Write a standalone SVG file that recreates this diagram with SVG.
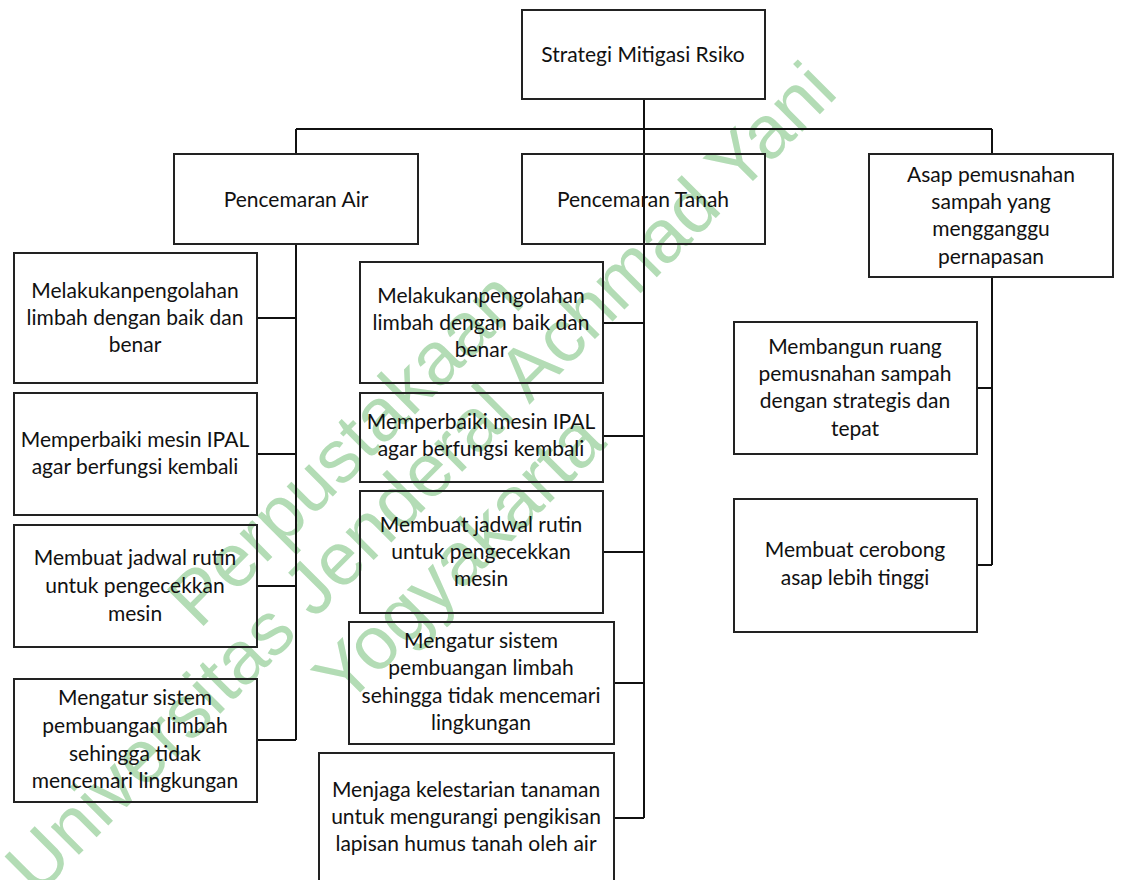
<svg xmlns="http://www.w3.org/2000/svg" width="1121" height="880" viewBox="0 0 1121 880">
<style>
.wm{font-family:"Liberation Sans",Arial,sans-serif;font-size:75px;fill:#b3dcb5;text-anchor:middle}
.box{fill:none;stroke:#222;stroke-width:2}
.lbl{font-family:Lato,"Liberation Sans",sans-serif;font-size:21px;fill:#111;text-anchor:middle}
.con{fill:none;stroke:#111;stroke-width:2}
</style>
<rect width="1121" height="880" fill="#fff"/>
<g id="watermark" transform="translate(425,475) rotate(-45)">
<text class="wm" x="-38" y="-50">Perpustakaan</text>
<text class="wm" x="-5" y="24">Universitas Jenderal Achmad Yani</text>
<text class="wm" x="-35" y="108">Yogyakarta</text>
</g>
<g id="connectors">
<path class="con" d="M644 99V244M296 129H992M296 129V154M992 129V154"/>
<path class="con" d="M296 244V740M257 318H296M257 454H296M257 586H296M257 740H296"/>
<path class="con" d="M644 244V818M603 323H644M603 436H644M603 552H644M614 683H644M614 818H644"/>
<path class="con" d="M992 277V565M977 388H992M977 565H992"/>
</g>
<g id="root"><rect class="box" x="522" y="10" width="243" height="89"/><text class="lbl" x="643" y="62">Strategi Mitigasi Rsiko</text></g>
<g id="air"><rect class="box" x="174" y="154" width="244" height="90"/><text class="lbl" x="296" y="207">Pencemaran Air</text></g>
<g id="tanah"><rect class="box" x="522" y="154" width="243" height="90"/><text class="lbl" x="643" y="207">Pencemaran Tanah</text></g>
<g id="asap"><rect class="box" x="869" y="154" width="244" height="123"/><text class="lbl" x="991"><tspan x="991" y="182">Asap pemusnahan</tspan><tspan x="991" y="209">sampah yang</tspan><tspan x="991" y="236">mengganggu</tspan><tspan x="991" y="264">pernapasan</tspan></text></g>
<g id="air1"><rect class="box" x="14" y="253" width="243" height="130"/><text class="lbl"><tspan x="135" y="298">Melakukanpengolahan</tspan><tspan x="135" y="325">limbah dengan baik dan</tspan><tspan x="135" y="352">benar</tspan></text></g>
<g id="air2"><rect class="box" x="14" y="393" width="243" height="122"/><text class="lbl"><tspan x="135" y="447">Memperbaiki mesin IPAL</tspan><tspan x="135" y="474">agar berfungsi kembali</tspan></text></g>
<g id="air3"><rect class="box" x="14" y="525" width="243" height="122"/><text class="lbl"><tspan x="135" y="565">Membuat jadwal rutin</tspan><tspan x="135" y="593">untuk pengecekkan</tspan><tspan x="135" y="621">mesin</tspan></text></g>
<g id="air4"><rect class="box" x="14" y="679" width="243" height="123"/><text class="lbl"><tspan x="135" y="705">Mengatur sistem</tspan><tspan x="135" y="733">pembuangan limbah</tspan><tspan x="135" y="761">sehingga tidak</tspan><tspan x="135" y="788">mencemari lingkungan</tspan></text></g>
<g id="tanah1"><rect class="box" x="360" y="262" width="243" height="121"/><text class="lbl"><tspan x="481" y="303">Melakukanpengolahan</tspan><tspan x="481" y="330">limbah dengan baik dan</tspan><tspan x="481" y="357">benar</tspan></text></g>
<g id="tanah2"><rect class="box" x="360" y="393" width="243" height="89"/><text class="lbl"><tspan x="481" y="429">Memperbaiki mesin IPAL</tspan><tspan x="481" y="456">agar berfungsi kembali</tspan></text></g>
<g id="tanah3"><rect class="box" x="360" y="491" width="243" height="122"/><text class="lbl"><tspan x="481" y="532">Membuat jadwal rutin</tspan><tspan x="481" y="559">untuk pengecekkan</tspan><tspan x="481" y="586">mesin</tspan></text></g>
<g id="tanah4"><rect class="box" x="349" y="622" width="265" height="122"/><text class="lbl"><tspan x="481" y="648">Mengatur sistem</tspan><tspan x="481" y="675">pembuangan limbah</tspan><tspan x="481" y="703">sehingga tidak mencemari</tspan><tspan x="481" y="730">lingkungan</tspan></text></g>
<g id="tanah5"><rect class="box" x="319" y="753" width="295" height="135"/><text class="lbl"><tspan x="466" y="797">Menjaga kelestarian tanaman</tspan><tspan x="466" y="824">untuk mengurangi pengikisan</tspan><tspan x="466" y="851">lapisan humus tanah oleh air</tspan></text></g>
<g id="asap1"><rect class="box" x="734" y="322" width="243" height="132"/><text class="lbl"><tspan x="855" y="354">Membangun ruang</tspan><tspan x="855" y="381">pemusnahan sampah</tspan><tspan x="855" y="408">dengan strategis dan</tspan><tspan x="855" y="436">tepat</tspan></text></g>
<g id="asap2"><rect class="box" x="734" y="499" width="243" height="133"/><text class="lbl"><tspan x="855" y="557">Membuat cerobong</tspan><tspan x="855" y="585">asap lebih tinggi</tspan></text></g>
</svg>
